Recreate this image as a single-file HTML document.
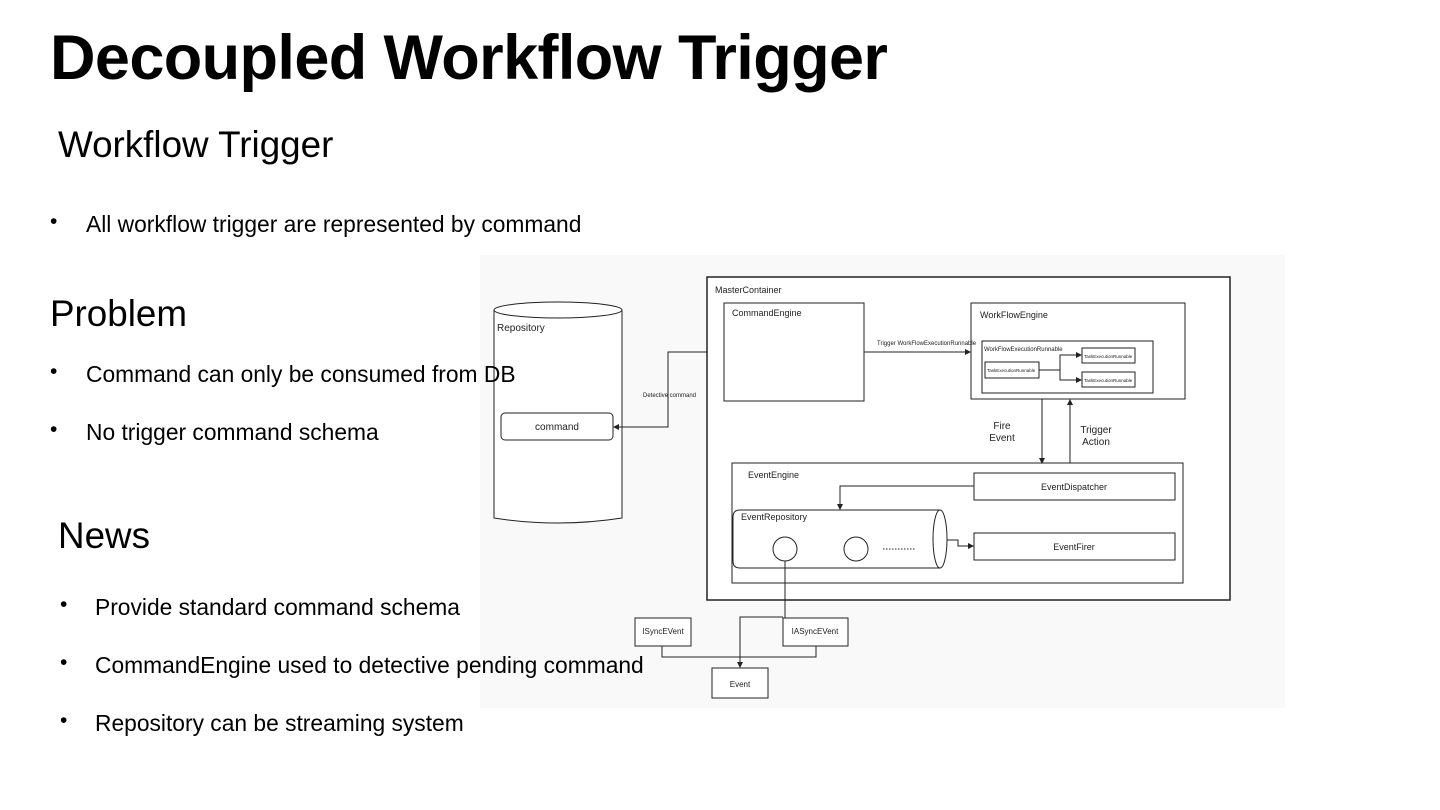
<!DOCTYPE html>
<html><head><meta charset="utf-8"><style>
html,body{margin:0;padding:0;background:#fff}
body{width:1440px;height:810px;position:relative;overflow:hidden;font-family:"Liberation Sans",Arial,sans-serif;color:#000}
.t{position:absolute;white-space:nowrap}
h1{position:absolute;left:50px;top:22px;margin:0;font-size:63px;font-weight:bold;letter-spacing:-0.6px}
.h{font-size:36.8px}
.b{font-size:22.8px}
.dot{position:absolute;font-size:21px}
.bg{position:absolute;left:480px;top:255px;width:805px;height:453px;background:#f9f9f9}
svg{position:absolute;left:0;top:0}
svg text{font-family:"Liberation Sans",Arial,sans-serif;fill:#222}
</style></head><body>
<div class="bg"></div>
<svg width="1440" height="810" viewBox="0 0 1440 810" fill="none" stroke="#222" stroke-width="1">
<defs><marker id="a" markerWidth="6" markerHeight="6" refX="5" refY="3" orient="auto"><path d="M0,0L6,3L0,6z" fill="#222" stroke="none"/></marker></defs>
<path d="M494,310 L494,518 Q558,528 622,518 L622,310" fill="#fff"/>
<ellipse cx="558" cy="310" rx="64" ry="8" fill="#fff"/>
<text x="497" y="331" font-size="10" stroke="none">Repository</text>
<rect x="501" y="413" width="112" height="27" rx="4" fill="#fff"/>
<text x="557" y="430" font-size="10" text-anchor="middle" stroke="none">command</text>
<path d="M724,352 L668,352 L668,427 L614,427" marker-end="url(#a)"/>
<text x="643" y="397" font-size="6" stroke="none">Detective command</text>
<rect x="707" y="277" width="523" height="323" stroke-width="1.5" fill="#fff"/>
<text x="715" y="293" font-size="9" stroke="none">MasterContainer</text>
<rect x="724" y="303" width="140" height="98"/>
<text x="732" y="316" font-size="9" stroke="none">CommandEngine</text>
<path d="M864,352 L970,352" marker-end="url(#a)"/>
<text x="877" y="345" font-size="6" stroke="none">Trigger WorkFlowExecutionRunnable</text>
<rect x="971" y="303" width="214" height="96"/>
<text x="980" y="318" font-size="9" stroke="none">WorkFlowEngine</text>
<rect x="982" y="341" width="171" height="52"/>
<text x="984" y="351" font-size="6" stroke="none">WorkFlowExecutionRunnable</text>
<rect x="985" y="362" width="54" height="16"/>
<text x="987" y="372" font-size="4.5" stroke="none">TaskExecutionRunnable</text>
<rect x="1082" y="348" width="53" height="15"/>
<text x="1084" y="358" font-size="4.5" stroke="none">TaskExecutionRunnable</text>
<rect x="1082" y="372" width="53" height="15"/>
<text x="1084" y="382" font-size="4.5" stroke="none">TaskExecutionRunnable</text>
<path d="M1039,370 L1060,370 L1060,355 L1081,355" marker-end="url(#a)"/>
<path d="M1060,370 L1060,380 L1081,380" marker-end="url(#a)"/>
<path d="M1042,399 L1042,463" marker-end="url(#a)"/>
<path d="M1070,463 L1070,400" marker-end="url(#a)"/>
<text x="1002" y="429" font-size="10" text-anchor="middle" stroke="none">Fire</text>
<text x="1002" y="441" font-size="10" text-anchor="middle" stroke="none">Event</text>
<text x="1096" y="433" font-size="10" text-anchor="middle" stroke="none">Trigger</text>
<text x="1096" y="445" font-size="10" text-anchor="middle" stroke="none">Action</text>
<rect x="732" y="463" width="451" height="120"/>
<text x="748" y="478" font-size="9" stroke="none">EventEngine</text>
<rect x="974" y="473" width="201" height="27"/>
<text x="1074" y="490" font-size="9" text-anchor="middle" stroke="none">EventDispatcher</text>
<rect x="974" y="533" width="201" height="27"/>
<text x="1074" y="550" font-size="9" text-anchor="middle" stroke="none">EventFirer</text>
<path d="M974,486 L840,486 L840,509" marker-end="url(#a)"/>
<path d="M940,510 L740,510 Q733,510 733,517 L733,561 Q733,568 740,568 L940,568"/>
<ellipse cx="940" cy="539" rx="7" ry="29"/>
<text x="741" y="520" font-size="9" stroke="none">EventRepository</text>
<circle cx="785" cy="549" r="12"/>
<circle cx="856" cy="549" r="12"/>
<path d="M883,549 L915,549" stroke-dasharray="1.5,1.5"/>
<path d="M947,540 L958,540 L958,546 L973,546" marker-end="url(#a)"/>
<rect x="635" y="618" width="56" height="28" fill="#fff"/>
<text x="663" y="634" font-size="8" text-anchor="middle" stroke="none">ISyncEVent</text>
<rect x="783" y="618" width="65" height="28" fill="#fff"/>
<text x="815" y="634" font-size="8" text-anchor="middle" stroke="none">IASyncEVent</text>
<rect x="712" y="668" width="56" height="30" fill="#fff"/>
<text x="740" y="687" font-size="8" text-anchor="middle" stroke="none">Event</text>
<path d="M785,561 L785,618"/>
<path d="M783,617 L740,617 L740,667" marker-end="url(#a)"/>
<path d="M662,646 L662,657 L816,657 L816,646"/>
</svg>
<h1>Decoupled Workflow Trigger</h1>
<div class="t h" style="left:58px;top:124px">Workflow Trigger</div>
<div class="dot" style="left:50px;top:210px">•</div><div class="t b" style="left:86px;top:211px">All workflow trigger are represented by command</div>
<div class="t h" style="left:50px;top:293px">Problem</div>
<div class="dot" style="left:50px;top:360px">•</div><div class="t b" style="left:86px;top:361px">Command can only be consumed from DB</div>
<div class="dot" style="left:50px;top:418px">•</div><div class="t b" style="left:86px;top:419px">No trigger command schema</div>
<div class="t h" style="left:58px;top:515px">News</div>
<div class="dot" style="left:60px;top:593px">•</div><div class="t b" style="left:95px;top:594px">Provide standard command schema</div>
<div class="dot" style="left:60px;top:651px">•</div><div class="t b" style="left:95px;top:652px">CommandEngine used to detective pending command</div>
<div class="dot" style="left:60px;top:709px">•</div><div class="t b" style="left:95px;top:710px">Repository can be streaming system</div>
</body></html>
